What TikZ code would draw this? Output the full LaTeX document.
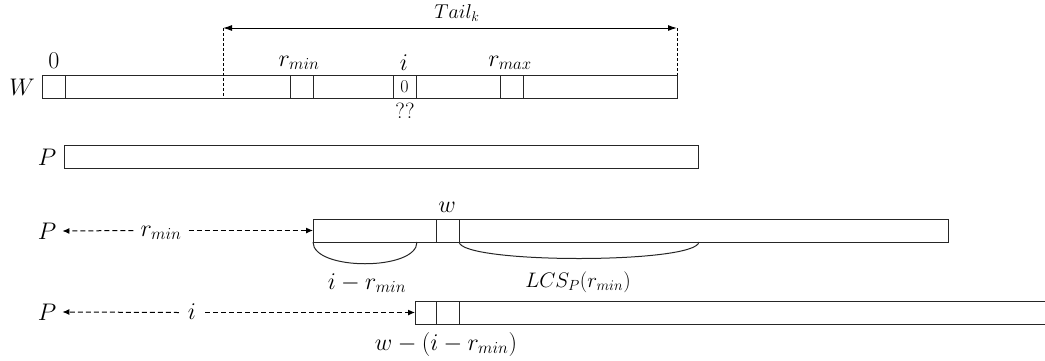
\RequirePackage{fix-cm}
\documentclass[tikz,border=0pt]{standalone}
\usetikzlibrary{arrows.meta}
\tikzset{
  ln/.style={draw=black!85, line width=1pt},
  bar/.style={ln, inner sep=0pt, outer sep=0pt, anchor=north west, minimum height=23pt},
  cell/.style={ln, inner sep=0pt, outer sep=0pt, anchor=north west, minimum width=23pt, minimum height=23pt},
  big/.style={font=\fontsize{24}{28}\selectfont, inner sep=1pt},
  mid/.style={font=\fontsize{21}{25}\selectfont, inner sep=1pt},
  tail/.style={font=\fontsize{20}{24}\selectfont, inner sep=1pt},
  small/.style={font=\fontsize{18}{22}\selectfont, inner sep=1pt},
  qmark/.style={font=\fontsize{22}{26}\selectfont, inner sep=1pt},
  dimarrow/.style={line width=1pt, draw=black, {Latex[length=9pt,width=6pt]}-{Latex[length=9pt,width=6pt]}},
  vdash/.style={line width=0.9pt, draw=black, dash pattern=on 3pt off 2pt},
  darr/.style={line width=1pt, draw=black, dash pattern=on 5pt off 3pt, -{Latex[length=7pt,width=6pt]}},
  brace/.style={line width=1pt, draw=black!85},
}
\begin{document}
\begin{tikzpicture}[x=1pt,y=-1pt]
\useasboundingbox (0,0) rectangle (1045,360);

% ---- Row 1: W ----
\node[bar, minimum width=635pt] (Wbar) at (42,75) {};
\node[cell] (W0) at (42,75) {};
\node[cell] (Wrmin) at (290,75) {};
\node[cell] (Wi) at (393,75) {};
\node[cell] (Wrmax) at (500,75) {};
\node[small] (zeroi) at (Wi.center) {0};
\node[big] (Wlab) at (22,87) {$W$};
\node[big] (zero) at (54,61) {0};
\node[big] (rminlab) at (299,63) {$r_{min}$};
\node[big] (ilab) at (404,63) {$i$};
\node[big] (rmaxlab) at (510,63) {$r_{max}$};
\node[qmark] (qq) at (405,111) {??};

\coordinate (tl) at (223,28);
\coordinate (tlb) at (223,98);
\coordinate (tr) at (677,28);
\coordinate (trb) at (677,75);
\draw[vdash] (tl) -- (tlb);
\draw[vdash] (tr) -- (trb);
\draw[dimarrow] (tl) -- (tr);
\node[tail] (taillab) at (457,13) {$Tail_k$};

% ---- Row 2: P ----
\node[bar, minimum width=634pt] (P2bar) at (64,145) {};
\node[big] (P2) at (47,157) {$P$};

% ---- Row 3 ----
\node[bar, minimum width=635pt] (P3bar) at (313,219) {};
\node[cell] (w3) at (436,219) {};
\node[big] (wlab) at (447,207) {$w$};
\node[big, inner sep=2pt] (P3) at (47,231) {$P$};
\node[big, inner sep=7pt] (rm3) at (161,233) {$r_{min}$};
\draw[darr] (rm3.west |- P3bar.west) -- ([xshift=4pt]P3.east);
\draw[darr] (rm3.east |- P3bar.west) -- (P3bar.west);
\coordinate (b1a) at (313,242);
\coordinate (b1b) at (417,242);
\draw[brace] (b1a) .. controls (313,271) and (417,271) .. (b1b);
\node[big] (imr) at (367,283) {$i - r_{min}$};
\coordinate (b2a) at (459,242);
\coordinate (b2b) at (699,242);
\draw[brace] (b2a) .. controls (462,264) and (696,264) .. (b2b);
\node[mid] (lcs) at (578,282) {$LCS_P(r_{min})$};

% ---- Row 4 ----
\node[bar, minimum width=633pt] (P4bar) at (415,301) {};
\node[cell, minimum width=21pt] (c4a) at (415,301) {};
\node[cell] (c4b) at (436,301) {};
\node[big, inner sep=2pt] (P4) at (47,312) {$P$};
\node[big, inner sep=9pt] (i4) at (192,312) {$i$};
\draw[darr] (i4.west |- P4bar.west) -- ([xshift=4pt]P4.east);
\draw[darr] (i4.east |- P4bar.west) -- (P4bar.west);
\node[big] (wexpr) at (446,344) {$w - (i - r_{min})$};
\end{tikzpicture}
\end{document}
